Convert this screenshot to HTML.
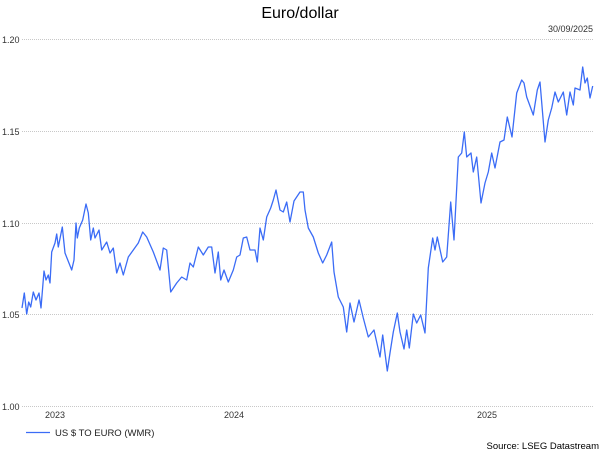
<!DOCTYPE html>
<html><head><meta charset="utf-8"><style>
body{margin:0;background:#fff;}
svg{display:block;font-family:"Liberation Sans",sans-serif;}
</style></head><body>
<svg width="602" height="452" viewBox="0 0 602 452">
<rect width="602" height="452" fill="#fff"/>
<text x="300" y="18" font-size="16" text-anchor="middle" fill="#000">Euro/dollar</text>
<text x="593" y="32" font-size="9" text-anchor="end" fill="#333">30/09/2025</text>
<g stroke="#c8c8c8" stroke-width="1" stroke-dasharray="1,1">
<line x1="22" y1="39.5" x2="593" y2="39.5"/>
<line x1="22" y1="131.5" x2="593" y2="131.5"/>
<line x1="22" y1="223.5" x2="593" y2="223.5"/>
<line x1="22" y1="314.5" x2="593" y2="314.5"/>
<line x1="22" y1="406.5" x2="593" y2="406.5"/>
</g>
<g font-size="9" fill="#333">
<text x="2" y="43">1.20</text>
<text x="2" y="135">1.15</text>
<text x="2" y="227">1.10</text>
<text x="2" y="318">1.05</text>
<text x="2" y="410">1.00</text>
<text x="55" y="418" text-anchor="middle">2023</text>
<text x="234" y="418" text-anchor="middle">2024</text>
<text x="487" y="418" text-anchor="middle">2025</text>
</g>
<polyline fill="none" stroke="#3b6cf6" stroke-width="1.3" stroke-linejoin="round" points="22,308 24.3,293 26.7,314 28.7,302 30.7,307 33.3,292 36,300 39,293 41,308 44,271 46,280 48.3,275 50,283 51.7,252 55,243 56.7,234 58.3,247 62.3,227 65,253 71.7,270 74,260 76,223 77.3,238 79.3,228 82.7,220 86,204 88.3,213 90.7,240 93.3,228 95,238 99,230 101.7,250 106.7,242 110,253 113.3,248 116.7,273 120,263 123.3,275 128.3,257 133.3,250 138.3,243 142.7,232 146.7,237 153.3,252 160,270 163.3,248 166.7,250 170.7,292 176.7,283 181.7,277 186.7,280 190,263 193.3,267 198.3,247 203.3,255 208.3,247 211.7,247 215,273 218.3,252 220.7,280 224,270 228.3,282 233.3,270 236.7,257 240,255 243.3,238 246.7,237 250,250 255,250 257.3,262 260,228 263.3,240 266.7,217 270.7,208 273.3,200 276,190 280,210 283.3,212 286.7,202 290,222 294,201 300,192 303.3,192 305,210 308.3,228 313.3,237 318.3,253 322.7,263 326.7,255 331.7,242 334,272 338.3,297 343.3,307 346.7,332 350,303 354,322 359,300 363.3,318 368.3,337 374,330 380,357 382.7,335 387.3,371 390,353 393.3,332 397.3,313 400,332 404,349 406.7,330 409.3,348 413.3,314 416.7,323 420.7,315 425,333 428.3,268 432.7,238 435,250 437.3,237 442.7,262 446.7,257 450.7,202 454,240 458.3,157 461.7,153 464.3,132 466.7,157 471,153 473.3,172 476.7,157 481,203 485,183 488.3,172 491.7,153 495,168 500,142 504,140 507.3,117 512,137 516.7,93 521.7,80 524,83 526.7,97 533.3,115 537.3,90 540,82 545,142 548.3,120 551.7,108 555,92 558.3,102 563.3,92 566.7,115 570,92 573.3,105 575,88 580,90 582.7,67 585,83 587.3,78 590,98 592.7,86"/>
<line x1="26" y1="432.5" x2="50" y2="432.5" stroke="#3b6cf6" stroke-width="1.3"/>
<text x="55" y="436" font-size="9.5" fill="#222">US $ TO EURO (WMR)</text>
<text x="599" y="449" font-size="9.5" text-anchor="end" fill="#000">Source: LSEG Datastream</text>
</svg>
</body></html>
